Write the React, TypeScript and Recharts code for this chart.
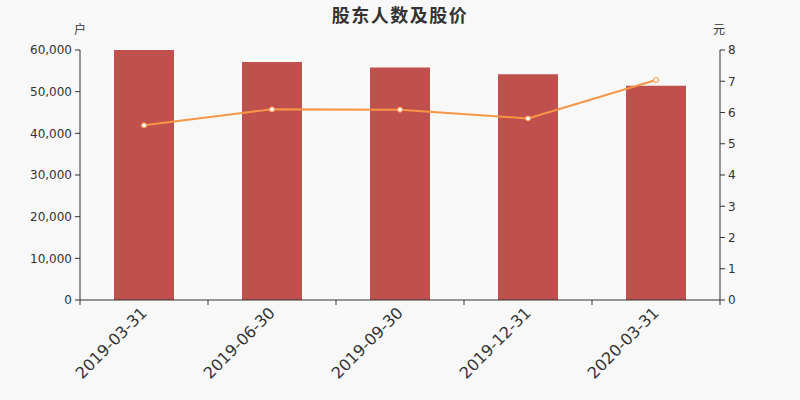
import React from 'react';
import { ComposedChart, Bar, Line, XAxis, YAxis } from 'recharts';

const categories = ['2019-03-31', '2019-06-30', '2019-09-30', '2019-12-31', '2020-03-31'];
const holders = [60000, 57100, 55800, 54200, 51450];
const prices = [5.59, 6.1, 6.09, 5.81, 7.04];
const leftTicks = [0, 10000, 20000, 30000, 40000, 50000, 60000];
const rightTicks = [0, 1, 2, 3, 4, 5, 6, 7, 8];
const title = '股东人数及股价';
const leftUnit = '户';
const rightUnit = '元';

const data = categories.map((c, i) => ({ date: c, holders: holders[i], price: prices[i] }));

const AXIS = '#333';
const BAR = '#c0504d';
const LINE = '#f79646';
const NUM_FONT = '"DejaVu Sans", sans-serif';
const CJK_FONT = '"Noto Sans CJK SC", sans-serif';
const X_TICK_SIZE = 5;
const X_TICK_MARGIN = 5;

const XTick = (props: any) => {
  const { x, y, payload, index, visibleTicksCount } = props;
  const off = payload && typeof payload.offset === 'number' ? payload.offset : 64;
  const axisY = y - X_TICK_SIZE - X_TICK_MARGIN;
  const last = index === (visibleTicksCount ?? categories.length) - 1;
  return (
    <g>
      <line x1={x - off} y1={axisY} x2={x - off} y2={axisY + 5} stroke={AXIS} strokeWidth={1} />
      {last && <line x1={x + off} y1={axisY} x2={x + off} y2={axisY + 5} stroke={AXIS} strokeWidth={1} />}
      <text
        x={x}
        y={y}
        dy="0.35em"
        textAnchor="end"
        transform={`rotate(-45, ${x}, ${y})`}
        fill={AXIS}
        fontSize={16}
        fontFamily={NUM_FONT}
      >
        {payload.value}
      </text>
    </g>
  );
};

const Dot = (props: any) => {
  const { cx, cy, index } = props;
  if (cx == null || cy == null) return null;
  return <circle key={`d${index}`} cx={cx} cy={cy} r={2.5} fill="#fff" stroke={LINE} strokeWidth={1} />;
};

export default function App() {
  return (
    <div style={{ position: 'absolute', left: 0, top: 0, width: 800, height: 400, background: '#f8f8f8', overflow: 'hidden' }}>
      <div
        style={{
          position: 'absolute',
          left: 0,
          top: 2,
          width: 800,
          textAlign: 'center',
          fontFamily: CJK_FONT,
          fontWeight: 'bold',
          fontSize: 18,
          lineHeight: '24px',
          letterSpacing: '1.5px',
          color: '#333',
        }}
      >
        {title}
      </div>
      <div style={{ position: 'absolute', left: 74, top: 20, fontFamily: CJK_FONT, fontSize: 12, lineHeight: '18px', color: '#333' }}>
        {leftUnit}
      </div>
      <div style={{ position: 'absolute', left: 713, top: 20, fontFamily: CJK_FONT, fontSize: 12, lineHeight: '18px', color: '#333' }}>
        {rightUnit}
      </div>
      <ComposedChart width={800} height={400} data={data} margin={{ top: 50, right: 0, bottom: 0, left: 0 }}>
        <XAxis
          dataKey="date"
          height={100}
          tickLine={false}
          tickSize={X_TICK_SIZE}
          tickMargin={X_TICK_MARGIN}
          axisLine={{ stroke: AXIS }}
          tick={<XTick />}
          interval={0}
        />
        <YAxis
          yAxisId="left"
          orientation="left"
          width={80}
          domain={[0, 60000]}
          ticks={leftTicks}
          tickFormatter={(v: number) => v.toLocaleString('en-US')}
          tickSize={5}
          tickMargin={3}
          axisLine={{ stroke: AXIS }}
          tickLine={{ stroke: AXIS }}
          tick={{ fill: AXIS, fontSize: 12, fontFamily: NUM_FONT }}
        />
        <YAxis
          yAxisId="right"
          orientation="right"
          width={80}
          domain={[0, 8]}
          ticks={rightTicks}
          tickSize={5}
          tickMargin={3}
          axisLine={{ stroke: AXIS }}
          tickLine={{ stroke: AXIS }}
          tick={{ fill: AXIS, fontSize: 12, fontFamily: NUM_FONT }}
        />
        <Bar yAxisId="left" dataKey="holders" fill={BAR} barSize={60} isAnimationActive={false} />
        <Line
          yAxisId="right"
          type="linear"
          dataKey="price"
          stroke={LINE}
          strokeWidth={2}
          dot={<Dot />}
          activeDot={false}
          isAnimationActive={false}
        />
      </ComposedChart>
    </div>
  );
}
